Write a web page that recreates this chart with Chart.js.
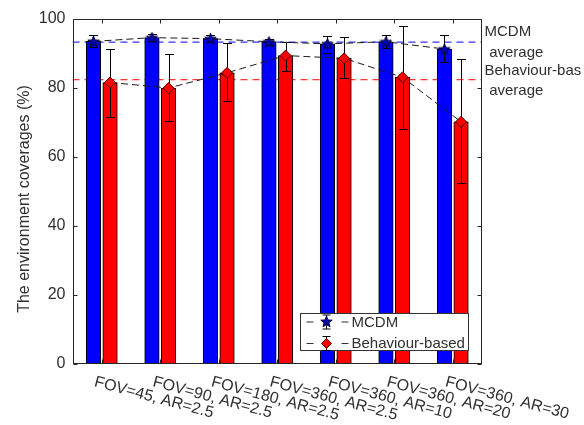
<!DOCTYPE html>
<html><head><meta charset="utf-8">
<script src="https://cdn.jsdelivr.net/npm/chart.js@4/dist/chart.umd.min.js"></script>
<style>html,body{margin:0;padding:0;background:#fff}#wrap{width:584px;height:425px;position:relative}</style>
</head><body><div id="wrap"><canvas id="c" width="584" height="425"></canvas></div>
<script>
const categories = ['FOV=45, AR=2.5','FOV=90, AR=2.5','FOV=180, AR=2.5','FOV=360, AR=2.5','FOV=360, AR=10','FOV=360, AR=20','FOV=360, AR=30'];
const seriesNames = ['MCDM','Behaviour-based'];
const mcdm      = [93.5, 94.6, 94.3, 93.4, 92.8, 93.4, 91.3];
const mcdmLow   = [92.0, 93.6, 93.4, 92.6, 90.0, 91.5, 87.4];
const mcdmHigh  = [95.3, 95.6, 95.3, 94.3, 95.2, 95.5, 95.4];
const behaviour     = [81.6, 80.0, 84.4, 89.4, 88.6, 83.1, 70.2];
const behaviourLow  = [71.5, 70.3, 76.2, 84.8, 82.8, 68.0, 52.4];
const behaviourHigh = [91.4, 89.8, 93.0, 93.4, 94.9, 98.1, 88.3];
const mcdmAverage = 93.3;
const behaviourAverage = 82.4;
const averageLabels = [['MCDM', ' average'], ['Behaviour-bas', ' average']];
const yTicks = [0, 20, 40, 60, 80, 100];
const yTitle = 'The environment coverages (%)';

const FONT = '"Liberation Sans", Arial, sans-serif';
const TXT = '#303030';
const OFF = 0.142;      // half-distance between the two bars of a group, in category units
const BAR_W = 14.5;

function starImg(){
  const c = document.createElement('canvas'); c.width = 13; c.height = 13;
  const g = c.getContext('2d'); g.beginPath();
  for (let k = 0; k < 10; k++) {
    const r = k % 2 ? 2.5 : 6;
    const a = -Math.PI/2 + k*Math.PI/5;
    const px = 6.5 + r*Math.cos(a), py = 7 + r*Math.sin(a);
    k ? g.lineTo(px, py) : g.moveTo(px, py);
  }
  g.closePath(); g.fillStyle = '#0808a8'; g.fill();
  g.strokeStyle = '#000040'; g.lineWidth = 1; g.stroke();
  return c;
}
const STAR = starImg();

function diamond(ctx, x, y, r){
  ctx.beginPath(); ctx.moveTo(x, y-r); ctx.lineTo(x+r, y); ctx.lineTo(x, y+r); ctx.lineTo(x-r, y); ctx.closePath();
  ctx.fillStyle = '#ff0000'; ctx.fill(); ctx.strokeStyle = '#500000'; ctx.lineWidth = 1; ctx.stroke();
}

const deco = {
  id: 'deco',
  afterDatasetDraw(chart, args) {
    const ds = chart.data.datasets[args.index];
    if (!ds.errLow) return;
    const ctx = chart.ctx, y = chart.scales.y;
    ctx.save(); ctx.strokeStyle = '#000'; ctx.lineWidth = 1;
    args.meta.data.forEach((bar, i) => {
      const x = Math.round(bar.x) + 0.5;
      const yl = Math.round(y.getPixelForValue(ds.errLow[i])) + 0.5;
      const yh = Math.round(y.getPixelForValue(ds.errHigh[i])) + 0.5;
      ctx.beginPath();
      ctx.moveTo(x, yl); ctx.lineTo(x, yh);
      ctx.moveTo(x-4.5, yl); ctx.lineTo(x+4.5, yl);
      ctx.moveTo(x-4.5, yh); ctx.lineTo(x+4.5, yh);
      ctx.stroke();
    });
    ctx.restore();
  },
  afterDraw(chart) {
    const ctx = chart.ctx, a = chart.chartArea, y = chart.scales.y, x = chart.scales.x;
    ctx.save();
    // frame
    const L = Math.round(a.left)+0.5, R = Math.round(a.right)-0.5, T = Math.round(a.top)+0.5, B = Math.round(a.bottom)-0.5;
    ctx.strokeStyle = '#262626'; ctx.lineWidth = 1;
    ctx.strokeRect(L, T, R-L, B-T);
    // inward ticks
    ctx.beginPath();
    yTicks.forEach(v => { const p = Math.round(y.getPixelForValue(v))+0.5; ctx.moveTo(L, p); ctx.lineTo(L+4, p); ctx.moveTo(R, p); ctx.lineTo(R-4, p); });
    categories.forEach((c, i) => { const p = Math.round(x.getPixelForValue(i + 1))+0.5; ctx.moveTo(p, T); ctx.lineTo(p, T+4); ctx.moveTo(p, B); ctx.lineTo(p, B-4); });
    ctx.stroke();
    // x labels, rotated
    ctx.fillStyle = TXT; ctx.font = '16px ' + FONT; ctx.textAlign = 'left'; ctx.textBaseline = 'top';
    categories.forEach((c, i) => {
      const p = x.getPixelForValue(i + 1);
      ctx.save(); ctx.translate(p - 5, a.bottom + 10); ctx.rotate(15 * Math.PI/180);
      ctx.fillText(c, 0, 0); ctx.restore();
    });
    // y title
    ctx.save(); ctx.translate(25, 199); ctx.rotate(-Math.PI/2);
    ctx.textAlign = 'center'; ctx.textBaseline = 'middle'; ctx.font = '16px ' + FONT;
    ctx.fillText(yTitle, 0, 0); ctx.restore();
    // average annotations
    ctx.font = '15px ' + FONT; ctx.textAlign = 'left'; ctx.textBaseline = 'middle';
    [mcdmAverage, behaviourAverage].forEach((v, k) => {
      const p = y.getPixelForValue(v);
      ctx.fillText(averageLabels[k][0], a.right + 2.5, p - 10 + k);
      ctx.fillText(averageLabels[k][1], a.right + 3, p + 10.5 + k);
    });
    // legend
    const lx = 300.5, ly = 313.5, lw = 168, lh = 37;
    ctx.fillStyle = '#fff'; ctx.fillRect(lx, ly, lw, lh);
    ctx.strokeStyle = '#333'; ctx.strokeRect(lx, ly, lw, lh);
    const rows = [322, 343.5];
    rows.forEach((ry, k) => {
      ctx.strokeStyle = '#333'; ctx.lineWidth = 1;
      ctx.beginPath();
      ctx.moveTo(306.5, ry); ctx.lineTo(313.5, ry);
      ctx.moveTo(341.5, ry); ctx.lineTo(348.5, ry);
      ctx.stroke();
      ctx.strokeStyle = '#000';
      const ex = 326.5;
      ctx.beginPath();
      ctx.moveTo(ex, ry-7); ctx.lineTo(ex, ry+7);
      ctx.moveTo(ex-4, ry-7); ctx.lineTo(ex+4, ry-7);
      ctx.moveTo(ex-4, ry+7); ctx.lineTo(ex+4, ry+7);
      ctx.stroke();
      if (k === 0) ctx.drawImage(STAR, ex - 6.5, ry - 7);
      else diamond(ctx, ex, ry, 5);
      ctx.fillStyle = TXT; ctx.font = '15px ' + FONT; ctx.textAlign = 'left'; ctx.textBaseline = 'middle';
      ctx.fillText(seriesNames[k], 351.5, ry + 0.5);
    });
    ctx.restore();
  }
};

new Chart(document.getElementById('c'), {
  type: 'bar',
  data: {
    datasets: [
      { type: 'line', label: seriesNames[0], order: 0,
        data: mcdm.map((v, i) => ({x: i + 1 - OFF, y: v})),
        borderColor: '#1a1a1a', borderWidth: 1, borderDash: [7, 4], fill: false, tension: 0,
        pointStyle: STAR, pointRadius: 6, pointHoverRadius: 6 },
      { type: 'line', label: seriesNames[1], order: 1,
        data: behaviour.map((v, i) => ({x: i + 1 + OFF, y: v})),
        borderColor: '#1a1a1a', borderWidth: 1, borderDash: [7, 4], fill: false, tension: 0,
        pointStyle: 'rectRot', pointRadius: 5.5, pointHoverRadius: 5.5,
        pointBackgroundColor: '#ff0000', pointBorderColor: '#500000', pointBorderWidth: 1 },
      { type: 'bar', label: seriesNames[0] + ' bars', order: 10, grouped: false,
        data: mcdm.map((v, i) => ({x: i + 1 - OFF, y: v})), errLow: mcdmLow, errHigh: mcdmHigh,
        backgroundColor: '#0000ff', borderColor: '#000', borderWidth: 1, barThickness: BAR_W },
      { type: 'bar', label: seriesNames[1] + ' bars', order: 11, grouped: false,
        data: behaviour.map((v, i) => ({x: i + 1 + OFF, y: v})), errLow: behaviourLow, errHigh: behaviourHigh,
        backgroundColor: '#ff0000', borderColor: '#000', borderWidth: 1, barThickness: BAR_W },
      { type: 'line', label: 'MCDM average', order: 20,
        data: [{x: 0.5, y: mcdmAverage}, {x: 7.5, y: mcdmAverage}],
        borderColor: '#0000ff', borderWidth: 1, borderDash: [7, 5], pointRadius: 0, fill: false },
      { type: 'line', label: 'Behaviour-based average', order: 21,
        data: [{x: 0.5, y: behaviourAverage}, {x: 7.5, y: behaviourAverage}],
        borderColor: '#ff0000', borderWidth: 1, borderDash: [7, 5], pointRadius: 0, fill: false }
    ]
  },
  options: {
    responsive: false, animation: false, devicePixelRatio: 1,
    layout: { padding: { left: 0, top: 19, right: 102, bottom: 0 } },
    plugins: { legend: { display: false }, tooltip: { enabled: false } },
    scales: {
      x: { type: 'linear', min: 0.5, max: 7.5, offset: false, grid: { display: false }, border: { display: false },
           ticks: { display: false }, afterFit: s => { s.height = 61; } },
      y: { min: 0, max: 100, border: { display: false },
           grid: { drawOnChartArea: false, drawTicks: false },
           ticks: { stepSize: 20, padding: 7, color: TXT, font: { size: 16, family: FONT } },
           afterFit: s => { s.width = 72.5; } }
    }
  },
  plugins: [deco]
});
</script></body></html>
